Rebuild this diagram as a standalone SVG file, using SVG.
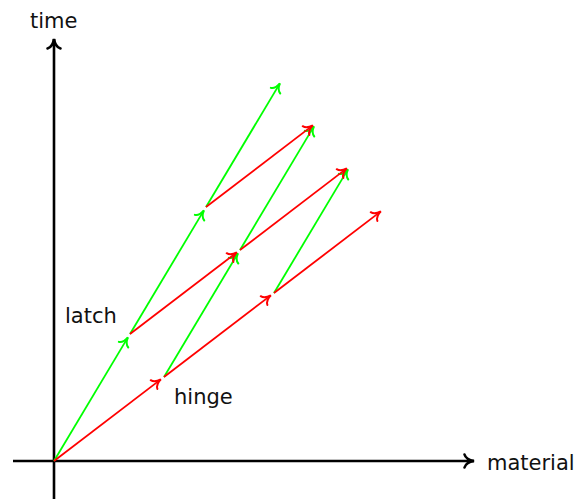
<svg xmlns="http://www.w3.org/2000/svg" width="581" height="501" viewBox="0 0 581 501">
<style>
text{font-family:"DejaVu Sans","Liberation Sans",sans-serif;font-size:21px;fill:#111}
.ax{stroke:#000;stroke-width:2.6;fill:none}
.g{stroke:#00ff00;stroke-width:1.8;fill:none}
.r{stroke:#ff0000;stroke-width:1.8;fill:none}
</style>
<defs>
<marker id="ak" markerUnits="userSpaceOnUse" viewBox="-12 -9 14 18" markerWidth="14" markerHeight="18" refX="0" refY="0" orient="auto" overflow="visible">
<path d="M-9.5,-6.5 C-8.3,-2.4 -3.6,-0.6 0,0 C-3.6,0.6 -8.3,2.4 -9.5,6.5" fill="none" stroke="#000" stroke-width="2.6" stroke-linecap="round"/>
</marker>
<marker id="ag" markerUnits="userSpaceOnUse" viewBox="-12 -9 14 18" markerWidth="14" markerHeight="18" refX="0" refY="0" orient="auto" overflow="visible">
<path d="M-8.5,-5.5 C-7.3,-2 -3.2,-0.5 0,0 C-3.2,0.5 -7.3,2 -8.5,5.5" fill="none" stroke="#00ff00" stroke-width="2" stroke-linecap="round"/>
</marker>
<marker id="ar" markerUnits="userSpaceOnUse" viewBox="-12 -9 14 18" markerWidth="14" markerHeight="18" refX="0" refY="0" orient="auto" overflow="visible">
<path d="M-8.5,-5.5 C-7.3,-2 -3.2,-0.5 0,0 C-3.2,0.5 -7.3,2 -8.5,5.5" fill="none" stroke="#ff0000" stroke-width="2" stroke-linecap="round"/>
</marker>
</defs>
<g id="axes">
<line class="ax" x1="13" y1="461" x2="474" y2="461" marker-end="url(#ak)"/>
<line class="ax" x1="54" y1="499" x2="54" y2="39" marker-end="url(#ak)"/>
</g>
<g id="connectors">
<line class="g" x1="54" y1="461" x2="127.9" y2="337.4" marker-end="url(#ag)"/>
<line class="g" x1="164" y1="377" x2="237.9" y2="253.4" marker-end="url(#ag)"/>
<line class="g" x1="130" y1="334" x2="203.9" y2="210.4" marker-end="url(#ag)"/>
<line class="g" x1="240" y1="250" x2="313.9" y2="126.4" marker-end="url(#ag)"/>
<line class="g" x1="274" y1="293" x2="347.9" y2="169.4" marker-end="url(#ag)"/>
<line class="g" x1="206" y1="207" x2="279.9" y2="83.4" marker-end="url(#ag)"/>
<line class="r" x1="54" y1="461" x2="160.8" y2="379.4" marker-end="url(#ar)"/>
<line class="r" x1="130" y1="334" x2="236.8" y2="252.4" marker-end="url(#ar)"/>
<line class="r" x1="164" y1="377" x2="270.8" y2="295.4" marker-end="url(#ar)"/>
<line class="r" x1="206" y1="207" x2="312.8" y2="125.4" marker-end="url(#ar)"/>
<line class="r" x1="240" y1="250" x2="346.8" y2="168.4" marker-end="url(#ar)"/>
<line class="r" x1="274" y1="293" x2="380.8" y2="211.4" marker-end="url(#ar)"/>
</g>
<g id="labels">
<text x="30" y="28">time</text>
<text x="487" y="470">material</text>
<text x="65" y="323">latch</text>
<text x="174" y="404">hinge</text>
</g>
</svg>
